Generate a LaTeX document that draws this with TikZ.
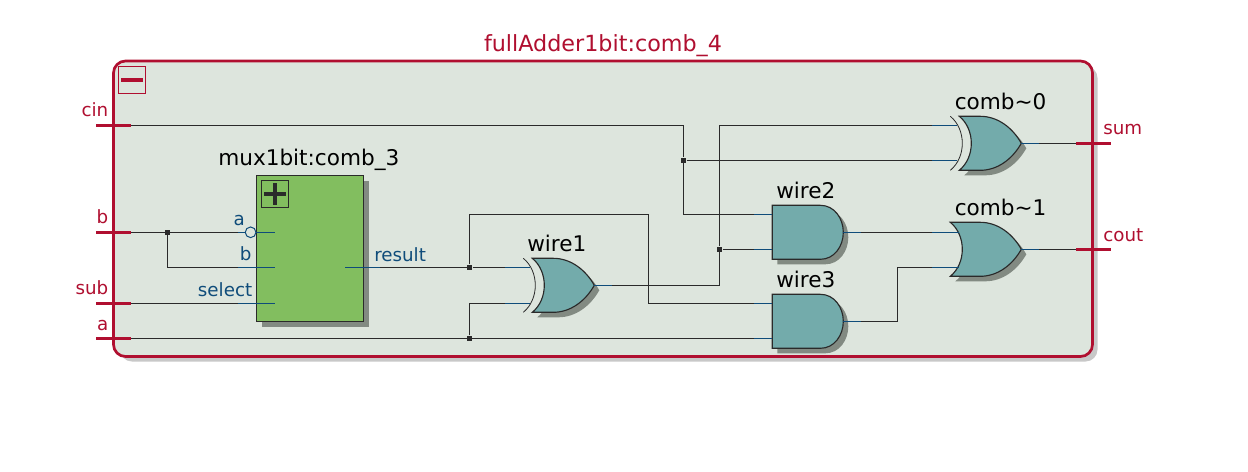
\documentclass[tikz,border=0pt]{standalone}
\usepackage{fontspec}
\setmainfont{DejaVu Sans}
\definecolor{crim}{HTML}{B00F30}
\definecolor{pinblue}{HTML}{0F4C7A}
\definecolor{wirek}{HTML}{2A2A2A}
\definecolor{panel}{HTML}{DDE5DD}
\definecolor{gatefill}{HTML}{73ABAB}
\definecolor{muxfill}{HTML}{82BE5F}
\definecolor{dropc}{HTML}{828A82}
\definecolor{outshade}{HTML}{C8C8C8}
\tikzset{
  wirepath/.style={draw=wirek,line width=0.85pt},
  stub/.style={draw=pinblue,line width=0.85pt},
  portpin/.style={draw=crim,line width=2.4pt},
  outline/.style={draw=wirek,line width=0.85pt},
  portlabel/.style={text=crim,font=\fontsize{13.7pt}{15pt}\selectfont,inner sep=0pt},
  pinlabel/.style={text=pinblue,font=\fontsize{13.7pt}{15pt}\selectfont,inner sep=0pt},
  gatelabel/.style={text=black,font=\fontsize{16.2pt}{18pt}\selectfont,inner sep=0pt,anchor=base west},
  junction/.style={fill=wirek,draw=none,minimum size=4.1pt,inner sep=0pt,shape=rectangle},
  andbody/.pic={
    \fill[dropc,shift={(5,5)}] (0,-27) -- (48,-27) .. controls (62,-27) and (71,-14) .. (71,0) .. controls (71,14) and (62,27) .. (48,27) -- (0,27) -- cycle;
    \path[fill=gatefill,outline] (0,-27) -- (48,-27) .. controls (62,-27) and (71,-14) .. (71,0) .. controls (71,14) and (62,27) .. (48,27) -- (0,27) -- cycle;
    \coordinate (-i1) at (0,-18);
    \coordinate (-i2) at (0,17);
    \coordinate (-o) at (71,0);
  },
  orbody/.pic={
    \fill[dropc,shift={(5,5)}] (0,-27) -- (30,-27) .. controls (47,-27) and (62,-16) .. (71,0) .. controls (62,16) and (47,27) .. (30,27) -- (0,27) .. controls (16,14) and (16,-14) .. (0,-27) -- cycle;
    \path[fill=gatefill,outline] (0,-27) -- (30,-27) .. controls (47,-27) and (62,-16) .. (71,0) .. controls (62,16) and (47,27) .. (30,27) -- (0,27) .. controls (16,14) and (16,-14) .. (0,-27) -- cycle;
    \coordinate (-i1) at (9,-17);
    \coordinate (-i2) at (9,18);
    \coordinate (-o) at (71,0);
  },
  xorbody/.pic={
    \fill[dropc,shift={(5,5)}] (9,-27) -- (30,-27) .. controls (47,-27) and (62,-16) .. (71,0) .. controls (62,16) and (47,27) .. (30,27) -- (9,27) .. controls (25,14) and (25,-14) .. (9,-27) -- cycle;
    \path[fill=gatefill,outline] (9,-27) -- (30,-27) .. controls (47,-27) and (62,-16) .. (71,0) .. controls (62,16) and (47,27) .. (30,27) -- (9,27) .. controls (25,14) and (25,-14) .. (9,-27) -- cycle;
    \draw[wirek,line width=0.6pt] (0,-27) .. controls (16,-14) and (16,14) .. (0,27);
    \coordinate (-i1) at (7,-18);
    \coordinate (-i2) at (7,18);
    \coordinate (-o) at (71,0);
  },
}
\begin{document}
\begin{tikzpicture}[x=0.75pt,y=-0.75pt]
\useasboundingbox (0,0) rectangle (1248,471);
\fill[white] (0,0) rectangle (1248,471);
% frame
\fill[outshade,rounded corners=9pt] (120,66) rectangle (1097.5,361.5);
\path[fill=panel,draw=crim,line width=2pt,rounded corners=9pt] (113.5,61) rectangle (1092.5,356.5);
\node[text=crim,font=\fontsize{16.7pt}{18pt}\selectfont,inner sep=0pt,anchor=base] (title) at (603,51) {fullAdder1bit:comb\_4};
% collapse box
\node[draw=crim,line width=0.75pt,minimum size=20.5pt,inner sep=0pt,shape=rectangle] (minusbox) at (132,80) {};
\fill[crim] (121,78.2) rectangle (143,81.8);
% ports
\coordinate (pcinL) at (96,125.3);  \coordinate (pcin) at (131,125.3);
\coordinate (pbL) at (96,232.3);    \coordinate (pb) at (131,232.3);
\coordinate (psubL) at (96,303.3);  \coordinate (psub) at (131,303.3);
\coordinate (paL) at (96,338.3);    \coordinate (pa) at (131,338.3);
\coordinate (psum) at (1076,143.3); \coordinate (psumR) at (1110.5,143.3);
\coordinate (pcout) at (1076,249.3);\coordinate (pcoutR) at (1110.5,249.3);
% mux
\fill[dropc] (262,181) rectangle (368.5,326.5);
\node[fill=muxfill,draw=wirek,line width=0.85pt,minimum width=80pt,minimum height=109.2pt,inner sep=0pt,shape=rectangle] (mux) at (310,248.5) {};
\node[draw=wirek,line width=0.75pt,minimum size=20.5pt,inner sep=0pt,shape=rectangle] (plusbox) at (275,193.8) {};
\fill[wirek] (264,191.9) rectangle (286,195.7);
\fill[wirek] (273.1,182.8) rectangle (276.9,204.8);
\coordinate (muxa) at (275,232.3);
\coordinate (muxb) at (275,267.3);
\coordinate (muxs) at (275,303.3);
\coordinate (muxr) at (345,267.3);
% gates
\pic (w1) at (523.3,285.3) {xorbody};
\pic (w2) at (772.3,232.3) {andbody};
\pic (w3) at (772.3,321.3) {andbody};
\pic (c0) at (950.3,143.3) {xorbody};
\pic (c1) at (950.3,249.3) {orbody};
% junctions
\node[junction] (jb) at (167.5,232.3) {};
\node[junction] (jr) at (469.5,267.3) {};
\node[junction] (ja) at (469.5,338.3) {};
\node[junction] (jc) at (683.5,160.3) {};
\node[junction] (jw) at (719.5,249.3) {};
\coordinate (c0low) at (c0-i2 |- jc);
\coordinate (jog) at (648.5,214.3);
\coordinate (jog3) at (897.5,267.3);
% wires
\begin{scope}[every path/.style={wirepath}]
\draw (pcin) -- (pcin -| jc) -- (jc) |- (w2-i1);
\draw (jc) -- (c0low);
\draw (pb) -- (241,232.3);
\draw (jb) |- (muxb);
\draw (psub) -- (muxs);
\draw (pa) -- (w3-i2);
\draw (muxr) -- (jr) -- (w1-i1);
\draw (jr) |- (jog) |- (w3-i1);
\draw (ja) |- (w1-i2);
\draw (w1-o) -| (jw) |- (c0-i1);
\draw (jw) -- (w2-i2);
\draw (w2-o) -- (c1-i1);
\draw (w3-o) -| (jog3) -- (c1-i2);
\draw (c0-o) -- (psum);
\draw (c1-o) -- (pcout);
\end{scope}
\node[draw=pinblue,fill=panel,line width=0.75pt,shape=circle,minimum size=8pt,inner sep=0pt] (bub) at (250.6,232.3) {};
% blue stubs
\begin{scope}[every path/.style={stub}]
\draw (238,232.3) -- (bub.west);
\draw (bub.east) -- (muxa);
\draw (238,267.3) -- (muxb);
\draw (238,303.3) -- (muxs);
\draw (muxr) -- (380,267.3);
\draw ([xshift=-18.75pt]w1-i1) -- (w1-i1);
\draw ([xshift=-18.75pt]w1-i2) -- (w1-i2);
\draw ([xshift=-13.5pt]w2-i1) -- (w2-i1);
\draw ([xshift=-13.5pt]w2-i2) -- (w2-i2);
\draw ([xshift=-13.5pt]w3-i1) -- (w3-i1);
\draw ([xshift=-13.5pt]w3-i2) -- (w3-i2);
\draw ([xshift=-18.75pt]c0-i1) -- (c0-i1);
\draw ([xshift=-18.75pt]c0low) -- (c0low);
\draw ([xshift=-20.25pt]c1-i1) -- (c1-i1);
\draw ([xshift=-20.25pt]c1-i2) -- (c1-i2);
\draw (w1-o) -- ++(18,0);
\draw (w2-o) -- ++(18,0);
\draw (w3-o) -- ++(18,0);
\draw (c0-o) -- ++(18,0);
\draw (c1-o) -- ++(18,0);
\end{scope}
% port pins
\draw[portpin] (pcinL) -- (pcin);
\draw[portpin] (pbL) -- (pb);
\draw[portpin] (psubL) -- (psub);
\draw[portpin] (paL) -- (pa);
\draw[portpin] (psum) -- (psumR);
\draw[portpin] (pcout) -- (pcoutR);
% labels
\node[portlabel,anchor=base east] (lcin) at (108.5,116.5) {cin};
\node[portlabel,anchor=base east] (lb) at (108.5,223) {b};
\node[portlabel,anchor=base east] (lsub) at (108.5,294) {sub};
\node[portlabel,anchor=base east] (la) at (108.5,330) {a};
\node[portlabel,anchor=base west] (lsum) at (1103,134) {sum};
\node[portlabel,anchor=base west] (lcout) at (1103,241) {cout};
\node[pinlabel,anchor=base east] (ma) at (245,225) {a};
\node[pinlabel,anchor=base east] (mb) at (251.7,260.7) {b};
\node[pinlabel,anchor=base east] (ms) at (252.5,296) {select};
\node[pinlabel,anchor=base west] (mr) at (374,261) {result};
\node[gatelabel] (tmux) at (218,165) {mux1bit:comb\_3};
\node[gatelabel] (tw1) at (527,251) {wire1};
\node[gatelabel] (tw2) at (776,198) {wire2};
\node[gatelabel] (tw3) at (776,287) {wire3};
\node[gatelabel] (tc0) at (954.5,109) {comb\textasciitilde 0};
\node[gatelabel] (tc1) at (954.5,215) {comb\textasciitilde 1};
\end{tikzpicture}
\end{document}
